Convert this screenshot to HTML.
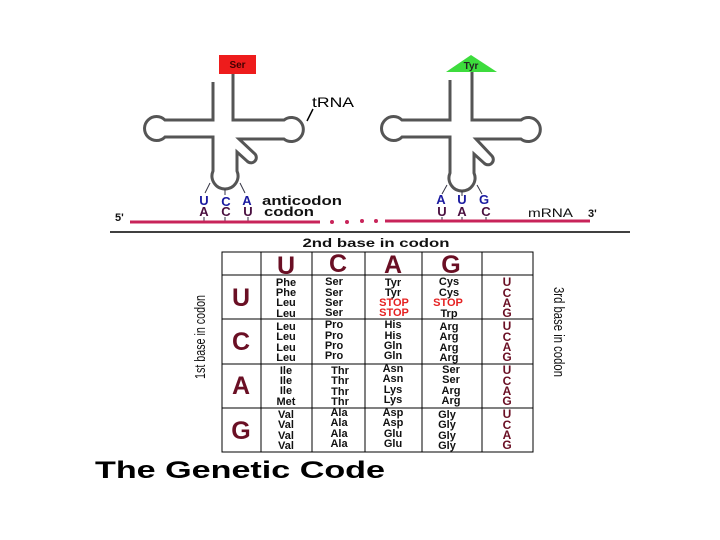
<!DOCTYPE html>
<html><head><meta charset="utf-8"><style>
html,body{margin:0;padding:0;background:#fff}
svg{display:block}
text{font-family:"Liberation Sans",Arial,sans-serif;font-weight:bold}
</style></head><body>
<svg width="720" height="540" viewBox="0 0 720 540" xmlns="http://www.w3.org/2000/svg">
<rect width="720" height="540" fill="#fff"/>
<!-- Left tRNA -->
<rect x="219" y="55" width="37" height="19" fill="#ee1c1c"/>
<text x="237.5" y="68" font-size="10" text-anchor="middle" fill="#400">Ser</text>
<path d="M213,82 V120 H165 A12,12 0 1 0 165,137 H213 V171 A13,13 0 1 0 237,171 V152 L247,161 A5,5 0 0 0 255,154 L239,139 H284 A12,12 0 1 0 284,120 H233 V74" fill="none" stroke="#555" stroke-width="3"/>
<!-- Right tRNA -->
<polygon points="446,72 497,72 471,55" fill="#3ddc3d"/>
<text x="471" y="69" font-size="10" text-anchor="middle" fill="#222">Tyr</text>
<path d="M450,80 V120 H402 A12,12 0 1 0 402,137 H450 V173 A13,13 0 1 0 474,173 V154 L484,163 A5,5 0 0 0 492,156 L476,139 H521 A12,12 0 1 0 521,120 H472 V72" fill="none" stroke="#555" stroke-width="3"/>
<!-- tRNA label -->
<text x="312" y="107" font-size="14" textLength="42" lengthAdjust="spacingAndGlyphs" style="font-weight:normal" fill="#000">tRNA</text>
<line x1="313" y1="109" x2="307" y2="121" stroke="#000" stroke-width="1.5"/>
<!-- anticodon ticks -->
<g stroke="#334" stroke-width="1">
<line x1="210" y1="183" x2="205" y2="193"/><line x1="225" y1="189" x2="225" y2="195"/><line x1="240" y1="183" x2="245" y2="193"/>
<line x1="447" y1="185" x2="442" y2="194"/><line x1="462" y1="191" x2="462" y2="196"/><line x1="477" y1="185" x2="482" y2="194"/>
<line x1="204" y1="217" x2="204" y2="222"/><line x1="225" y1="217" x2="225" y2="222"/><line x1="248" y1="217" x2="248" y2="222"/>
<line x1="442" y1="217" x2="442" y2="222"/><line x1="462" y1="217" x2="462" y2="222"/><line x1="486" y1="217" x2="486" y2="222"/>
</g>
<g font-size="13" text-anchor="middle" fill="#1a1aa0">
<text x="204" y="205">U</text><text x="226" y="206">C</text><text x="247" y="205">A</text>
<text x="441" y="204">A</text><text x="462" y="204">U</text><text x="484" y="204">G</text>
</g>
<g font-size="13" text-anchor="middle" fill="#4a1040" style="font-weight:normal">
<text x="204" y="216">A</text><text x="226" y="216">C</text><text x="248" y="216">U</text>
<text x="442" y="216">U</text><text x="462" y="216">A</text><text x="486" y="216">C</text>
</g>
<text x="262" y="205" font-size="13" textLength="80" lengthAdjust="spacingAndGlyphs" fill="#111">anticodon</text>
<text x="264" y="216" font-size="13" textLength="50" lengthAdjust="spacingAndGlyphs" fill="#111">codon</text>
<text x="115" y="221" font-size="11" fill="#111">5'</text>
<text x="528" y="217" font-size="12" textLength="45" lengthAdjust="spacingAndGlyphs" fill="#111" style="font-weight:normal">mRNA</text>
<text x="588" y="217" font-size="11" fill="#111">3'</text>
<line x1="130" y1="222" x2="320" y2="222" stroke="#c8245a" stroke-width="3"/>
<line x1="385" y1="221" x2="590" y2="221" stroke="#c8245a" stroke-width="3"/>
<g fill="#c8245a"><circle cx="332" cy="222" r="2"/><circle cx="347" cy="222" r="2"/><circle cx="362" cy="221" r="2"/><circle cx="376" cy="221" r="2"/></g>
<line x1="110" y1="232" x2="630" y2="232" stroke="#000" stroke-width="1.5"/>
<!-- table -->
<text x="376" y="247" font-size="12" textLength="147" lengthAdjust="spacingAndGlyphs" text-anchor="middle" fill="#111">2nd base in codon</text>
<text transform="translate(205,337) rotate(-90)" font-size="15" textLength="84" lengthAdjust="spacingAndGlyphs" text-anchor="middle" fill="#111" style="font-weight:normal">1st base in codon</text>
<text transform="translate(554,332) rotate(90)" font-size="15" textLength="90" lengthAdjust="spacingAndGlyphs" text-anchor="middle" fill="#111" style="font-weight:normal">3rd base in codon</text>
<g stroke="#000" stroke-width="1" fill="none">
<rect x="222" y="252" width="311" height="200"/>
<line x1="261" y1="252" x2="261" y2="452"/><line x1="312" y1="252" x2="312" y2="452"/>
<line x1="365" y1="252" x2="365" y2="452"/><line x1="422" y1="252" x2="422" y2="452"/>
<line x1="482" y1="252" x2="482" y2="452"/>
<line x1="222" y1="275" x2="533" y2="275"/><line x1="222" y1="319" x2="533" y2="319"/>
<line x1="222" y1="364" x2="533" y2="364"/><line x1="222" y1="408" x2="533" y2="408"/>
</g>
<g font-size="25" text-anchor="middle" fill="#6a0f24">
<text x="286" y="274">U</text><text x="338" y="272">C</text><text x="393" y="273">A</text><text x="451" y="273">G</text>
<text x="241" y="306">U</text><text x="241" y="350">C</text><text x="241" y="394">A</text><text x="241" y="439">G</text>
</g>
<g font-size="12" text-anchor="middle" fill="#6a0f24">
<text x="507" y="286">U</text><text x="507" y="297">C</text><text x="507" y="307">A</text><text x="507" y="317">G</text>
<text x="507" y="330">U</text><text x="507" y="341">C</text><text x="507" y="351">A</text><text x="507" y="361">G</text>
<text x="507" y="374">U</text><text x="507" y="385">C</text><text x="507" y="395">A</text><text x="507" y="405">G</text>
<text x="507" y="418">U</text><text x="507" y="429">C</text><text x="507" y="439">A</text><text x="507" y="449">G</text>
</g>
<g font-size="11" text-anchor="middle" fill="#111">
<text x="286" y="286">Phe</text><text x="286" y="296">Phe</text><text x="286" y="306">Leu</text><text x="286" y="317">Leu</text>
<text x="286" y="330">Leu</text><text x="286" y="340">Leu</text><text x="286" y="351">Leu</text><text x="286" y="361">Leu</text>
<text x="286" y="374">Ile</text><text x="286" y="384">Ile</text><text x="286" y="394">Ile</text><text x="286" y="405">Met</text>
<text x="286" y="418">Val</text><text x="286" y="428">Val</text><text x="286" y="439">Val</text><text x="286" y="449">Val</text>
<text x="334" y="285">Ser</text><text x="334" y="296">Ser</text><text x="334" y="306">Ser</text><text x="334" y="316">Ser</text>
<text x="334" y="328">Pro</text><text x="334" y="339">Pro</text><text x="334" y="349">Pro</text><text x="334" y="359">Pro</text>
<text x="340" y="374">Thr</text><text x="340" y="384">Thr</text><text x="340" y="395">Thr</text><text x="340" y="405">Thr</text>
<text x="339" y="416">Ala</text><text x="339" y="426">Ala</text><text x="339" y="437">Ala</text><text x="339" y="447">Ala</text>
<text x="393" y="286">Tyr</text><text x="393" y="296">Tyr</text>
<text x="393" y="328">His</text><text x="393" y="339">His</text><text x="393" y="349">Gln</text><text x="393" y="359">Gln</text>
<text x="393" y="372">Asn</text><text x="393" y="382">Asn</text><text x="393" y="393">Lys</text><text x="393" y="403">Lys</text>
<text x="393" y="416">Asp</text><text x="393" y="426">Asp</text><text x="393" y="437">Glu</text><text x="393" y="447">Glu</text>
<text x="449" y="285">Cys</text><text x="449" y="296">Cys</text><text x="449" y="317">Trp</text>
<text x="449" y="330">Arg</text><text x="449" y="340">Arg</text><text x="449" y="351">Arg</text><text x="449" y="361">Arg</text>
<text x="451" y="373">Ser</text><text x="451" y="383">Ser</text><text x="451" y="394">Arg</text><text x="451" y="404">Arg</text>
<text x="447" y="418">Gly</text><text x="447" y="428">Gly</text><text x="447" y="439">Gly</text><text x="447" y="449">Gly</text>
</g>
<g font-size="11" text-anchor="middle" fill="#e52222">
<text x="394" y="306">STOP</text><text x="394" y="316">STOP</text><text x="448" y="306">STOP</text>
</g>
<text x="95" y="478" font-size="24" textLength="290" lengthAdjust="spacingAndGlyphs" fill="#000">The Genetic Code</text>
</svg>
</body></html>
